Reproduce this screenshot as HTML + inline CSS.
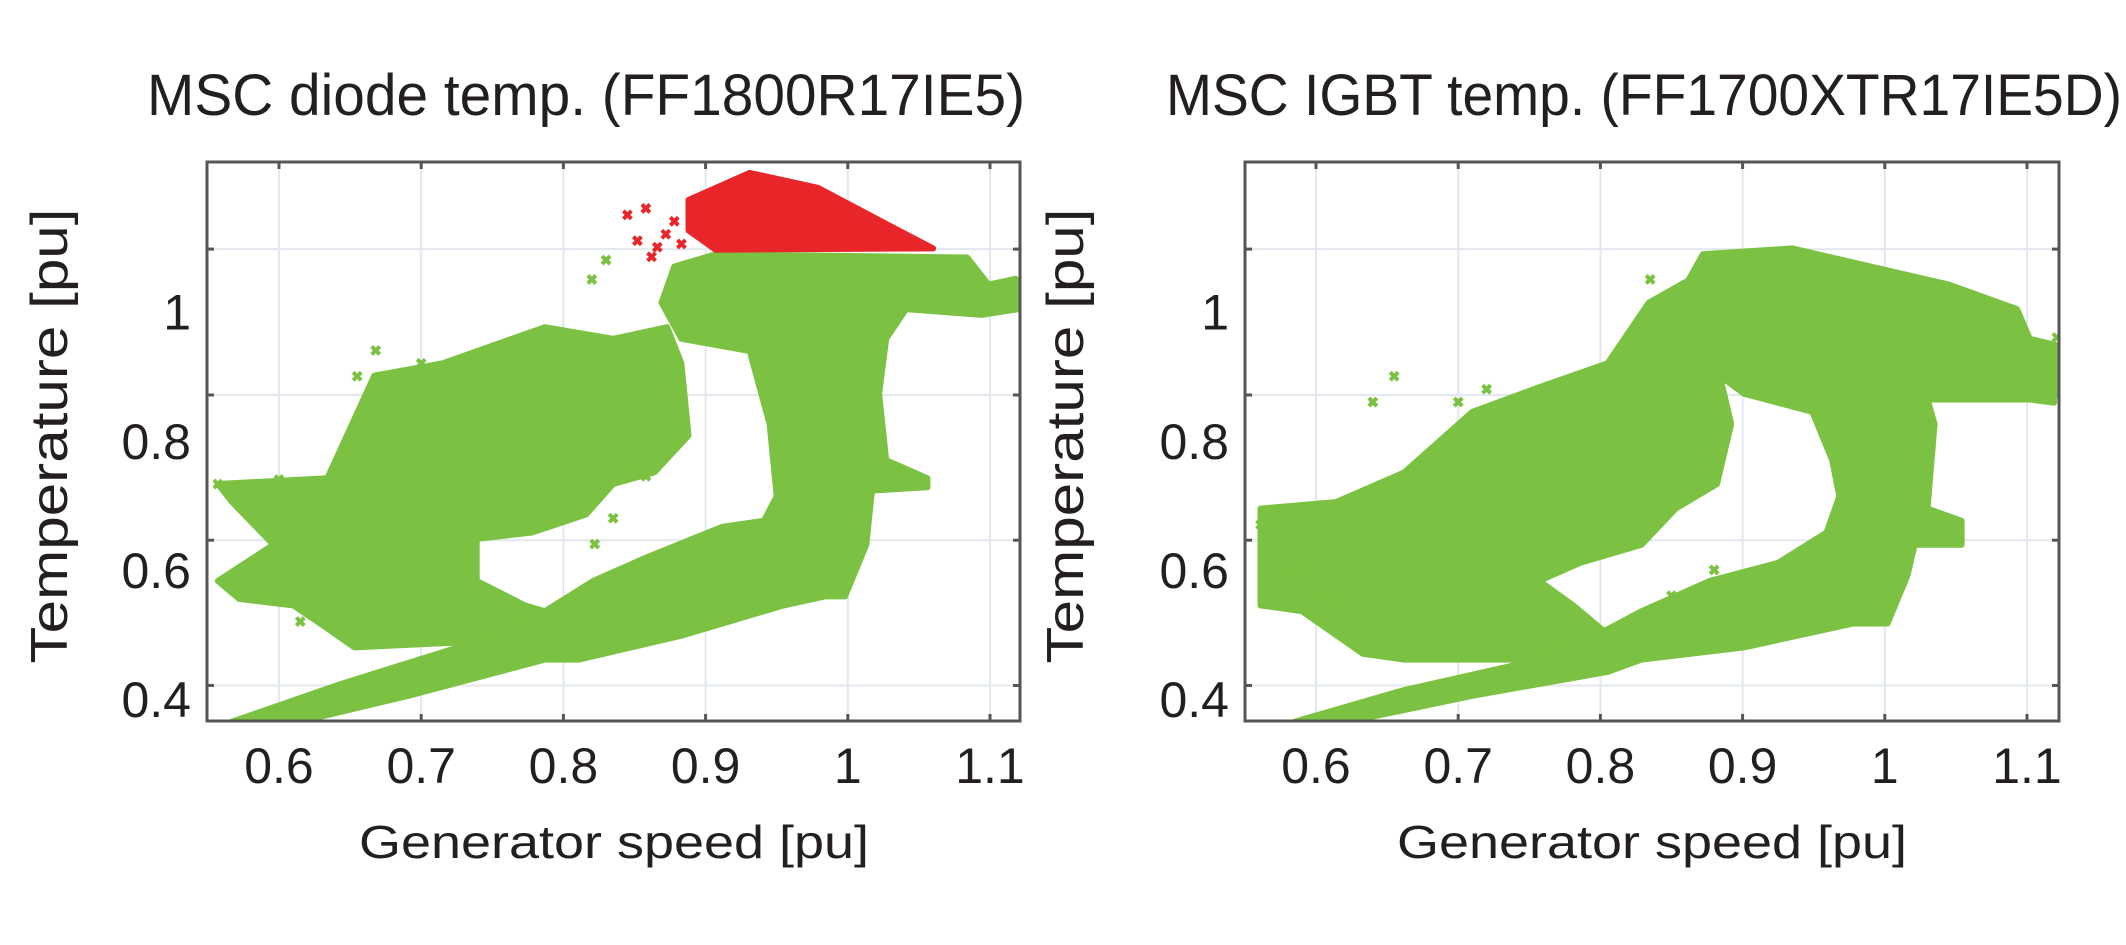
<!DOCTYPE html>
<html><head><meta charset="utf-8"><style>
html,body{margin:0;padding:0;background:#fff;}
svg{display:block;}
text{font-family:"Liberation Sans",sans-serif;fill:#231f20;}
</style></head><body>
<svg id="fig" width="2126" height="945" viewBox="0 0 2126 945" xmlns="http://www.w3.org/2000/svg"></svg>
<script>
// ---- data (x: generator speed pu, y: temperature pu) ----
const xTicks = [0.6, 0.7, 0.8, 0.9, 1.0, 1.1];
const xTickLabels = ["0.6", "0.7", "0.8", "0.9", "1", "1.1"];
const yTicks = [0.4, 0.6, 0.8, 1.0];
const yTickLabels = ["0.4", "0.6", "0.8", "1"];
const yGrid = [0.421, 0.646, 0.871, 1.097];

// Left chart (diode) regions
const diodeBandX = [0.567,0.615,0.691,0.787,0.811,0.883,0.955,0.984,0.998,1.013,1.017,1.056,1.056,1.027,1.022,1.027,1.041,1.094,1.120,1.118,1.099,1.084,0.907,0.878,0.869,0.883,0.931,0.945,0.950,0.941,0.912,0.859,0.821,0.787,0.739,0.643];
const diodeBandY = [0.365,0.365,0.405,0.461,0.461,0.498,0.545,0.559,0.559,0.639,0.723,0.728,0.742,0.770,0.873,0.958,1.004,0.995,1.004,1.051,1.042,1.084,1.089,1.070,1.014,0.958,0.939,0.826,0.714,0.676,0.667,0.620,0.583,0.536,0.489,0.423];
const diodeCloudX = [0.557,0.634,0.667,0.715,0.787,0.835,0.873,0.883,0.888,0.864,0.835,0.816,0.778,0.739,0.739,0.773,0.787,0.739,0.653,0.629,0.610,0.572,0.557,0.596,0.567];
const diodeCloudY = [0.733,0.742,0.901,0.920,0.976,0.958,0.976,0.920,0.808,0.751,0.733,0.686,0.658,0.648,0.583,0.545,0.536,0.489,0.480,0.517,0.545,0.555,0.583,0.639,0.705];
const diodeHotX = [0.888,0.931,0.979,1.027,1.060,0.907,0.888];
const diodeHotY = [1.173,1.215,1.192,1.136,1.098,1.096,1.126];
const diodeHotPtsX = [0.845,0.858,0.852,0.872,0.866,0.878,0.883,0.862];
const diodeHotPtsY = [1.150,1.160,1.110,1.120,1.100,1.140,1.105,1.085];
const diodePtsX = [0.557,0.572,0.590,0.603,0.630,0.655,0.668,0.700,0.820,0.830,0.850,0.858,0.835,0.822,0.600,0.585,0.615];
const diodePtsY = [0.733,0.700,0.620,0.560,0.580,0.900,0.940,0.920,1.050,1.080,0.760,0.745,0.680,0.640,0.740,0.560,0.520];

// Right chart (IGBT) regions
const igbtBandX = [0.585,0.623,0.710,0.805,0.829,0.901,0.978,1.002,1.016,1.021,1.054,1.054,1.030,1.035,1.030,1.102,1.119,1.121,1.102,1.093,1.045,0.935,0.872,0.853,0.872,0.901,0.949,0.963,0.968,0.959,0.925,0.877,0.829,0.805,0.757,0.662];
const igbtBandY = [0.365,0.365,0.405,0.442,0.461,0.480,0.517,0.517,0.592,0.639,0.639,0.676,0.695,0.826,0.864,0.864,0.859,0.948,0.958,1.004,1.042,1.098,1.089,1.014,0.920,0.873,0.845,0.770,0.714,0.658,0.611,0.583,0.536,0.508,0.461,0.414];
const igbtCloudX = [0.561,0.614,0.662,0.710,0.757,0.805,0.834,0.872,0.882,0.892,0.882,0.853,0.829,0.786,0.757,0.781,0.801,0.757,0.662,0.633,0.590,0.561];
const igbtCloudY = [0.695,0.705,0.751,0.845,0.883,0.920,1.014,1.061,0.920,0.826,0.733,0.695,0.639,0.611,0.583,0.545,0.508,0.461,0.461,0.470,0.536,0.545];
const igbtPtsX = [0.561,0.575,0.600,0.640,0.655,0.700,0.720,0.835,0.850,0.880,0.590,0.612,1.121,1.121];
const igbtPtsY = [0.670,0.590,0.560,0.860,0.900,0.860,0.880,1.050,0.560,0.600,0.600,0.550,0.960,0.880];

const svg = document.getElementById('fig');
const NS = 'http://www.w3.org/2000/svg';
function mk(tag, attrs, parent){const e=document.createElementNS(NS,tag);for(const k in attrs)e.setAttribute(k,attrs[k]);(parent||svg).appendChild(e);return e;}

function drawChart(cfg){
  const g = mk('g',{});
  
  
  const L=cfg.left, T=162, R=cfg.right, B=721;
  const X = v => cfg.x0 + (v-0.6)*1422;
  const Y = v => 699 - (v-0.4)*645.5;
  mk('rect',{x:L,y:T,width:R-L,height:B-T,fill:'#fff'},g);
  // grid
  xTicks.forEach(v=>{
    const l=mk('line',{x1:X(v),x2:X(v),y1:T,y2:B,stroke:'#e3e8ef','stroke-width':2},g);
    
    
    mk('line',{x1:X(v),x2:X(v),y1:T,y2:T+7,stroke:'#555','stroke-width':3},g);
    mk('line',{x1:X(v),x2:X(v),y1:B,y2:B-7,stroke:'#555','stroke-width':3},g);
  });
  yGrid.forEach(v=>{
    const l=mk('line',{x1:L,x2:R,y1:Y(v),y2:Y(v),stroke:'#e3e8ef','stroke-width':2},g);
    
    
    mk('line',{x1:L,x2:L+7,y1:Y(v),y2:Y(v),stroke:'#555','stroke-width':3},g);
    mk('line',{x1:R,x2:R-7,y1:Y(v),y2:Y(v),stroke:'#555','stroke-width':3},g);
  });
  const green='#7cc242', red='#e8262a';
  function poly(xs,ys,col,name){
    const pts=xs.map((x,i)=>X(x).toFixed(1)+','+Y(ys[i]).toFixed(1)).join(' ');
    const p=mk('polygon',{points:pts,fill:col,stroke:col,'stroke-width':6,'stroke-linejoin':'round'},g);
    
    
  }
  function pts(xs,ys,col,name){
    xs.forEach((x,i)=>{
      const cx=X(x), cy=Y(ys[i]);
      const m=mk('path',{d:`M${cx-4},${cy-4}L${cx+4},${cy+4}M${cx+4},${cy-4}L${cx-4},${cy+4}`,stroke:col,'stroke-width':4},g);
      
      
    });
  }
  poly(cfg.cloudX,cfg.cloudY,green,'scatter-cloud-low-speed');
  poly(cfg.bandX,cfg.bandY,green,'scatter-cloud-main');
  pts(cfg.ptsX,cfg.ptsY,green,'scatter-point');
  if(cfg.hotX){
    poly(cfg.hotX,cfg.hotY,red,'overtemperature-region');
    pts(cfg.hotPX,cfg.hotPY,red,'overtemperature-point');
  }
  // clip edges by drawing white margins over overflow
  mk('rect',{x:L-60,y:B+1.5,width:R-L+120,height:20,fill:'#fff'},g);
  mk('rect',{x:R+1.5,y:T-20,width:20,height:B-T+40,fill:'#fff'},g);
  const box=mk('rect',{x:L,y:T,width:R-L,height:B-T,fill:'none',stroke:'#555','stroke-width':3},g);
  
  
  // tick labels
  xTicks.forEach((v,i)=>{
    const t=mk('text',{x:X(v),y:783,'font-size':50,'text-anchor':'middle'},g);
    t.textContent=xTickLabels[i];
    
    
  });
  yTicks.forEach((v,i)=>{
    const t=mk('text',{x:L-16,y:Y(v)+18,'font-size':50,'text-anchor':'end'},g);
    t.textContent=yTickLabels[i];
    
    
  });
  const xt=mk('text',{x:cfg.xTitleX,y:858,'font-size':46,'text-anchor':'middle',textLength:cfg.xTitleW,lengthAdjust:'spacingAndGlyphs'},g);
  xt.textContent='Generator speed [pu]';
  
  
  const yt=mk('text',{x:0,y:0,'font-size':52,'text-anchor':'middle',textLength:455,lengthAdjust:'spacingAndGlyphs',transform:`translate(${cfg.yTitleX},436) rotate(-90)`},g);
  yt.textContent='Temperature [pu]';
  
  
  const tt=mk('text',{x:cfg.titleX,y:115,'font-size':58,'text-anchor':'middle',textLength:cfg.titleW,lengthAdjust:'spacingAndGlyphs'},g);
  tt.textContent=cfg.title;
  
  
}

drawChart({name:'diode-temperature-chart',left:207,right:1020,x0:279,
  bandX:diodeBandX,bandY:diodeBandY,cloudX:diodeCloudX,cloudY:diodeCloudY,ptsX:diodePtsX,ptsY:diodePtsY,
  hotX:diodeHotX,hotY:diodeHotY,hotPX:diodeHotPtsX,hotPY:diodeHotPtsY,
  title:'MSC diode temp. (FF1800R17IE5)',titleX:586,titleW:878,xTitleX:614,xTitleW:510,yTitleX:67});
drawChart({name:'igbt-temperature-chart',left:1245,right:2059,x0:1316,
  bandX:igbtBandX,bandY:igbtBandY,cloudX:igbtCloudX,cloudY:igbtCloudY,ptsX:igbtPtsX,ptsY:igbtPtsY,
  title:'MSC IGBT temp. (FF1700XTR17IE5D)',titleX:1644,titleW:956,xTitleX:1652,xTitleW:510,yTitleX:1083});
</script>
</body></html>
